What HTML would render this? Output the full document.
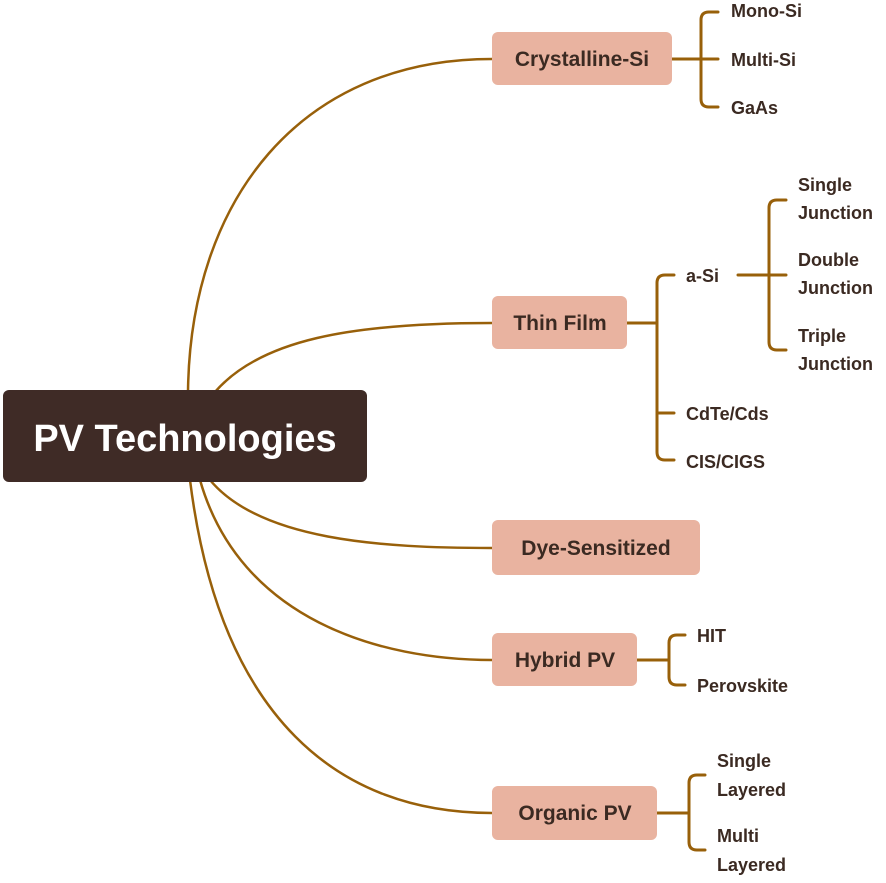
<!DOCTYPE html>
<html><head><meta charset="utf-8"><style>
html,body{margin:0;padding:0;background:#fff;}
svg text{font-family:"Liberation Sans",sans-serif;font-weight:bold;fill:#3b2a22;}
</style></head><body>
<svg width="886" height="878" viewBox="0 0 886 878" xmlns="http://www.w3.org/2000/svg">
<g fill="none" stroke="#98600a" stroke-width="2.5" stroke-linecap="round">
<path d="M188 392 C190 200 300 59 492 59"/>
<path d="M215 392 C260 340 350 323 492 323"/>
<path d="M210 480 C260 540 380 548 492 548"/>
<path d="M200 480 C240 620 380 660 492 660"/>
<path d="M190 480 C220 720 340 813 492 813"/>
<g stroke-width="3">
<path d="M672 59 H718"/>
<path d="M718 12 H709 Q701 12 701 20 V99 Q701 107 709 107 H718"/>
<path d="M627 323 H657"/>
<path d="M674 275 H665 Q657 275 657 283 V452 Q657 460 665 460 H674"/>
<path d="M657 413 H674"/>
<path d="M738 275 H786"/>
<path d="M786 200 H777 Q769 200 769 208 V342 Q769 350 777 350 H786"/>
<path d="M637 660 H669"/>
<path d="M685 635 H677 Q669 635 669 643 V677 Q669 685 677 685 H685"/>
<path d="M657 813 H689"/>
<path d="M705 775 H697 Q689 775 689 783 V842 Q689 850 697 850 H705"/>
</g>
</g>
<rect x="3" y="390" width="364" height="92" rx="6" fill="#3f2b26"/>
<text x="185" y="451" text-anchor="middle" font-size="38" style="fill:#fff">PV Technologies</text>
<g fill="#e9b3a0">
<rect x="492" y="32" width="180" height="53" rx="6"/>
<rect x="492" y="296" width="135" height="53" rx="6"/>
<rect x="492" y="520" width="208" height="55" rx="6"/>
<rect x="492" y="633" width="145" height="53" rx="6"/>
<rect x="492" y="786" width="165" height="54" rx="6"/>
</g>
<g font-size="21">
<text x="582" y="66" text-anchor="middle">Crystalline-Si</text>
<text x="560" y="330" text-anchor="middle">Thin Film</text>
<text x="596" y="555" text-anchor="middle">Dye-Sensitized</text>
<text x="565" y="667" text-anchor="middle">Hybrid PV</text>
<text x="575" y="820" text-anchor="middle">Organic PV</text>
</g>
<g font-size="18">
<text x="731" y="17">Mono-Si</text>
<text x="731" y="66">Multi-Si</text>
<text x="731" y="114">GaAs</text>
<text x="686" y="282">a-Si</text>
<text x="686" y="420">CdTe/Cds</text>
<text x="686" y="468">CIS/CIGS</text>
<text x="798" y="191">Single</text>
<text x="798" y="219">Junction</text>
<text x="798" y="266">Double</text>
<text x="798" y="294">Junction</text>
<text x="798" y="342">Triple</text>
<text x="798" y="370">Junction</text>
<text x="697" y="642">HIT</text>
<text x="697" y="692">Perovskite</text>
<text x="717" y="767">Single</text>
<text x="717" y="796">Layered</text>
<text x="717" y="842">Multi</text>
<text x="717" y="871">Layered</text>
</g>
</svg>
</body></html>
